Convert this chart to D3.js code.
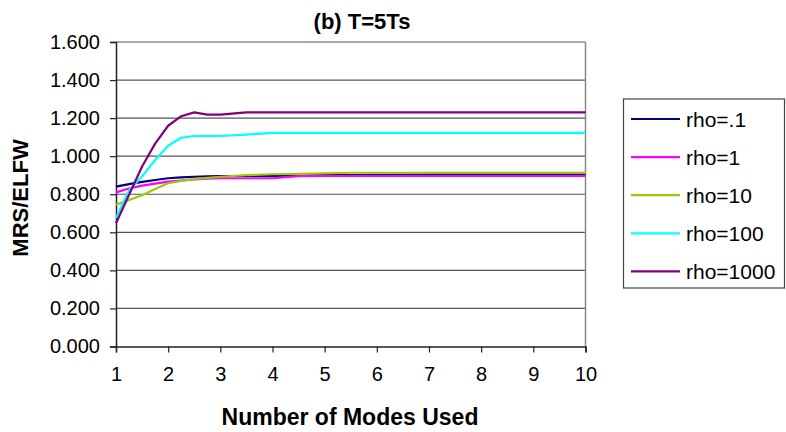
<!DOCTYPE html>
<html><head><meta charset="utf-8">
<script src="https://cdn.jsdelivr.net/npm/d3@7"></script>
<style>body{margin:0;background:#fff}svg{display:block}text{font-family:"Liberation Sans",Arial,sans-serif}</style>
</head><body>
<svg id="c" width="786" height="432"></svg>
<script>
const modes = [1,1.25,1.5,1.75,2,2.25,2.5,2.75,3,3.5,4,4.5,5,5.5,6,7,8,9,10];
const rho01 = [0.840,0.853,0.865,0.875,0.884,0.889,0.892,0.894,0.895,0.896,0.897,0.899,0.900,0.901,0.902,0.903,0.903,0.903,0.903];
const rho1 = [0.810,0.830,0.845,0.856,0.866,0.872,0.878,0.882,0.884,0.884,0.884,0.895,0.896,0.896,0.896,0.896,0.896,0.896,0.896];
const rho10 = [0.745,0.770,0.795,0.828,0.858,0.870,0.880,0.886,0.892,0.900,0.905,0.907,0.910,0.913,0.913,0.913,0.913,0.913,0.913];
const rho100 = [0.675,0.820,0.894,0.980,1.055,1.097,1.106,1.106,1.106,1.113,1.123,1.123,1.123,1.123,1.123,1.123,1.123,1.123,1.123];
const rho1000 = [0.648,0.797,0.946,1.066,1.160,1.210,1.230,1.218,1.218,1.230,1.230,1.230,1.230,1.230,1.230,1.230,1.230,1.230,1.230];
const seriesNames = ["rho=.1","rho=1","rho=10","rho=100","rho=1000"];
const seriesValues = [rho01, rho1, rho10, rho100, rho1000];
const seriesColors = ["#000080","#ff00ff","#99cc00","#00ffff","#800080"];
const xTicks = [1,2,3,4,5,6,7,8,9,10];
const yTicks = [0,0.2,0.4,0.6,0.8,1.0,1.2,1.4,1.6];
const titleText = "(b) T=5Ts";
const xLabel = "Number of Modes Used";
const yLabel = "MRS/ELFW";

const svg = d3.select("#c");
const L = 116, R = 585.5, T = 42, B = 346.5;
const x = d3.scaleLinear().domain([1,10]).range([L,R]);
const y = d3.scaleLinear().domain([0,1.6]).range([B,T]);

// gridlines
svg.append("g").selectAll("line").data(yTicks.filter(d=>d>0)).join("line")
  .attr("x1",L).attr("x2",R).attr("y1",d=>y(d)).attr("y2",d=>y(d))
  .attr("stroke","#555").attr("stroke-width",1.2);
// right border
svg.append("line").attr("x1",R).attr("x2",R).attr("y1",T).attr("y2",B)
  .attr("stroke","#888").attr("stroke-width",1.5);

// axes
const yAxis = svg.append("g").attr("transform",`translate(${L},0)`)
  .call(d3.axisLeft(y).tickValues(yTicks).tickFormat(d3.format(".3f")).tickSize(6).tickPadding(10));
const xAxis = svg.append("g").attr("transform",`translate(0,${B})`)
  .call(d3.axisBottom(x).tickValues(xTicks).tickFormat(d3.format("d")).tickSize(6).tickPadding(14));
[yAxis,xAxis].forEach(g=>{
  g.select(".domain").attr("stroke","#222").attr("stroke-width",1.5);
  g.selectAll(".tick line").attr("stroke","#222").attr("stroke-width",1.2);
  g.selectAll(".tick text").attr("font-size",20).attr("fill","#000")
    .style("font-family",'"Liberation Sans",Arial,sans-serif');
});

// lines
const line = d3.line().x((d,i)=>x(modes[i])).y(d=>y(d));
svg.append("g").selectAll("path").data(seriesValues).join("path")
  .attr("d",d=>line(d)).attr("fill","none")
  .attr("stroke",(d,i)=>seriesColors[i]).attr("stroke-width",2.2)
  .attr("stroke-linejoin","round");

// title and labels
svg.append("text").attr("x",362).attr("y",29).attr("text-anchor","middle")
  .attr("font-size",22).attr("font-weight","bold").text(titleText);
svg.append("text").attr("x",350).attr("y",425).attr("text-anchor","middle")
  .attr("font-size",23).attr("font-weight","bold").text(xLabel);
svg.append("text").attr("transform","translate(28,198) rotate(-90)").attr("text-anchor","middle")
  .attr("font-size",22).attr("font-weight","bold").text(yLabel);

// legend
const lg = svg.append("g");
lg.append("rect").attr("x",623.5).attr("y",99).attr("width",161).attr("height",189)
  .attr("fill","#fff").attr("stroke","#444").attr("stroke-width",1.2);
const items = lg.selectAll("g").data(seriesNames).join("g")
  .attr("transform",(d,i)=>`translate(0,${119+i*38.1})`);
items.append("line").attr("x1",631).attr("x2",680).attr("y1",0).attr("y2",0)
  .attr("stroke",(d,i)=>seriesColors[i]).attr("stroke-width",2.2);
items.append("text").attr("x",686).attr("y",7.5).attr("font-size",21).text(d=>d);
</script>
</body></html>
